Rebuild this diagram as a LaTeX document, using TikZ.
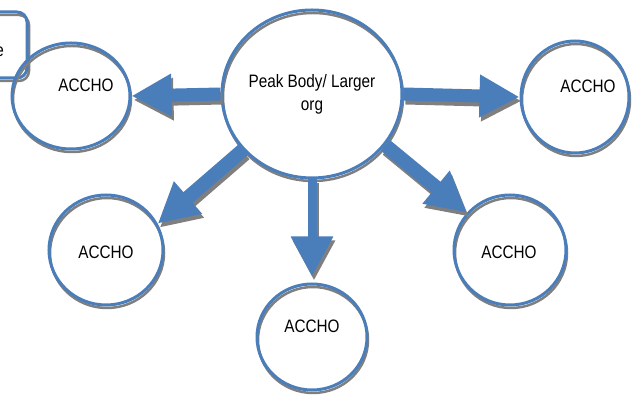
\documentclass[tikz,border=0pt]{standalone}
\usepackage{fontspec}
\newfontfamily\narrowsans[FakeStretch=0.85]{Liberation Sans}
\usetikzlibrary{arrows.meta,shapes.geometric}
\definecolor{accblue}{HTML}{4A7EBB}
\definecolor{shgray}{HTML}{7F7F7F}
\tikzset{
  x=1pt,y=1pt,
  orgshape/.style={ellipse, draw=accblue, line width=3pt, inner sep=0pt,
    preaction={draw=shgray, line width=2.5pt, transform canvas={shift={(1pt,-3pt)}}}},
  lbl/.style={font=\narrowsans\fontsize{18}{23}\selectfont, text=black, inner sep=0pt, align=center},
  blk/.style={draw=accblue, line width=#1, -{Triangle[length=40pt,width=40pt]},
    preaction={draw=shgray, line width=#1, -{Triangle[length=40pt,width=40pt]}, transform canvas={shift={(2pt,-4pt)}}}},
  blk/.default=13pt
}
\begin{document}
\begin{tikzpicture}
\useasboundingbox (0,0) rectangle (643,398);
% partial box at left
\node[draw=accblue, line width=3pt, rounded corners=10pt, minimum width=94pt, minimum height=66pt, inner sep=0pt,
  preaction={draw=shgray, line width=2.5pt, rounded corners=10pt, transform canvas={shift={(2pt,-3pt)}}}] (box) at (-20,353) {};
\node[lbl, anchor=east] (boxt) at (4,346) {e};
% ellipses
\node[orgshape, minimum width=180pt, minimum height=168pt] (c) at (312,304) {};
\node[orgshape, minimum width=118pt, minimum height=106pt] (e1) at (71,302) {};
\node[orgshape, minimum width=108pt, minimum height=112pt] (e2) at (575,301) {};
\node[orgshape, minimum width=114pt, minimum height=110pt] (e3) at (106,148) {};
\node[orgshape, minimum width=110pt, minimum height=106pt] (e4) at (312,61) {};
\node[orgshape, minimum width=112pt, minimum height=110pt] (e5) at (510,148) {};
% labels
\node[lbl] (ct) at (312,304) {Peak Body/ Larger\\org};
\node[lbl] (t1) at (86,313) {ACCHO};
\node[lbl] (t2) at (588,312) {ACCHO};
\node[lbl] (t3) at (106,146) {ACCHO};
\node[lbl] (t4) at (312,72) {ACCHO};
\node[lbl] (t5) at (509,146) {ACCHO};
% arrows
\draw[blk] (c.west) -- (e1.east);
\draw[blk] (c.east) -- (e2.west);
\draw[blk=14pt] (c.219) -- (e3.27);
\draw[blk=9pt, shorten >=6pt] (c.south) -- (e4.north);
\draw[blk=14pt] (c.325) -- (e5.139);
\end{tikzpicture}
\end{document}
